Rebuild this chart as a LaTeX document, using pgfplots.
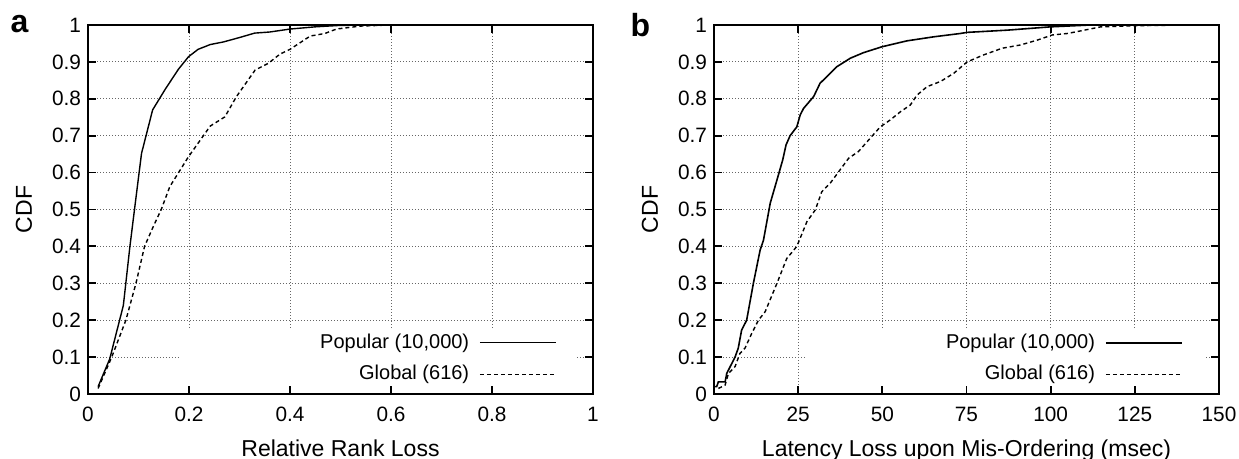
\documentclass[border=0pt]{standalone}
\usepackage{fontspec}
\setmainfont{Liberation Sans}
\usepackage{pgfplots}
\pgfplotsset{compat=1.18}

% gnuplot-like look: curves above the grid, ticks and frame above the curves
\pgfplotsset{
  layers/gp/.define layer set={axis background,axis grid,main,axis ticks,axis lines,axis tick labels,axis descriptions,axis foreground}{},
  gpaxis/.style={
    set layers=gp,
    scale only axis, width=252.5pt, height=184.5pt,
    ymin=0, ymax=1, ytick={0,0.1,...,1},
    grid=major,
    major grid style={black!60, line width=0.5pt, dash pattern=on 0.6pt off 0.9pt},
    axis line style={line width=1pt},
    tick style={black, line width=0.9pt},
    major tick length=4pt,
    tick align=inside,
    font=\fontsize{10}{12}\selectfont,
    tick label style={font=\fontsize{10.4}{12}\selectfont},
    /pgf/number format/assume math mode=true,
    xticklabel style={yshift=-3pt},
    label style={font=\fontsize{11.5}{13}\selectfont},
    xlabel style={at={(axis description cs:0.5,-0.1707)}, anchor=base},
    ylabel style={at={(axis description cs:-0.127,0.5)}, anchor=center},
    ylabel={CDF},
    legend cell align=right,
    legend plot pos=right,
    legend style={draw=none, fill=none, at={(axis description cs:1,0)}, anchor=south east,
      xshift=-18pt, yshift=1.8pt, inner sep=0pt, row sep=0pt, column sep=5pt,
      nodes={inner xsep=0pt, inner ysep=3.5pt}},
    legend image code/.code={\draw[#1] (0pt,0pt) -- (38pt,0pt);},
  },
  pop/.style={black, line width=0.7pt},
  glob/.style={black, line width=0.7pt, dash pattern=on 2pt off 1.5pt},
  mask/.style={draw=none, fill=white, forget plot},
}

\begin{document}
\begin{tikzpicture}
\begin{axis}[gpaxis, at={(0,0)}, anchor=south west,
  xmin=0, xmax=1, xtick={0,0.2,...,1},
  xlabel={Relative Rank Loss}]
% white box behind the key, as gnuplot leaves it
\addplot[mask] coordinates {(0.182,0.024) (0.182,0.173) (0.965,0.173) (0.965,0.024)} -- cycle;
\addplot[pop] coordinates {
(0.02,0.02) (0.043,0.095) (0.07,0.24) (0.083,0.40) (0.093,0.51) (0.106,0.652)
(0.128,0.77) (0.153,0.826) (0.179,0.88) (0.199,0.914) (0.218,0.934) (0.242,0.947)
(0.268,0.954) (0.30,0.966) (0.33,0.978) (0.36,0.981) (0.40,0.989) (0.45,0.995)
(0.50,0.999) (0.60,1.0)};
\addlegendentry{Popular (10,000)}
\addplot[glob] coordinates {
(0.02,0.015) (0.047,0.1) (0.075,0.2) (0.095,0.3) (0.112,0.4) (0.129,0.453)
(0.145,0.5) (0.162,0.562) (0.199,0.643) (0.242,0.726) (0.271,0.751) (0.294,0.806)
(0.331,0.878) (0.357,0.896) (0.380,0.921) (0.40,0.934) (0.44,0.970) (0.469,0.977)
(0.492,0.989) (0.539,0.997) (0.598,1.0)};
\addlegendentry{Global (616)}
\end{axis}

\begin{axis}[gpaxis, at={(313pt,0)}, anchor=south west,
  xmin=0, xmax=150, xtick={0,25,...,150},
  xlabel={Latency Loss upon Mis-Ordering (msec)}]
\addplot[mask] coordinates {(27.3,0.024) (27.3,0.173) (145.6,0.173) (145.6,0.024)} -- cycle;
\addplot[pop, line width=0.8pt] coordinates {
(0,0.02) (0.8,0.02) (1.3,0.033) (3.3,0.033) (3.8,0.056) (5.3,0.083) (6.25,0.10)
(7.2,0.124) (8.2,0.173) (9.7,0.2) (11.7,0.30) (13.7,0.39) (14.7,0.417) (16.7,0.517)
(18.7,0.58) (20.4,0.634) (21.4,0.675) (22.6,0.70) (24.6,0.724) (25.6,0.756)
(26.6,0.774) (29.6,0.806) (31.5,0.842) (33.5,0.86) (36.5,0.887) (40.5,0.91)
(44.4,0.925) (49.9,0.941) (57.3,0.957) (65.3,0.968) (73.2,0.977) (75.2,0.980)
(87.1,0.986) (100,0.995) (111.9,1.0)};
\addlegendentry{Popular (10,000)}
\addplot[glob] coordinates {
(1.3,0.015) (3.3,0.024) (4.3,0.056) (6.25,0.074) (7.7,0.11) (9.2,0.124)
(11.2,0.164) (13.2,0.20) (15.2,0.223) (18.7,0.30) (21.6,0.367) (24.6,0.40)
(27.6,0.467) (30.1,0.499) (32.0,0.548) (34.5,0.571) (37.0,0.602) (40.0,0.639)
(42.9,0.657) (45.9,0.688) (49.4,0.724) (52.4,0.743) (55.4,0.765) (58.3,0.783)
(60.3,0.81) (63.3,0.833) (67.3,0.847) (71.2,0.869) (75.2,0.900) (80.1,0.919)
(85.6,0.937) (91.1,0.946) (96.0,0.959) (100.5,0.973) (105,0.977) (110,0.986)
(114.9,0.995) (124.8,0.998) (141.7,1.0)};
\addlegendentry{Global (616)}
\end{axis}

\node[anchor=base, font=\fontsize{16}{18}\selectfont\bfseries] at (-34.25pt,180.5pt) {a};
\node[anchor=base, font=\fontsize{16}{18}\selectfont\bfseries] at (276.25pt,178.5pt) {b};

\pgfresetboundingbox
\path[use as bounding box] (-44pt,-32.5pt) rectangle (575.5pt,197pt);
\end{tikzpicture}
\end{document}
